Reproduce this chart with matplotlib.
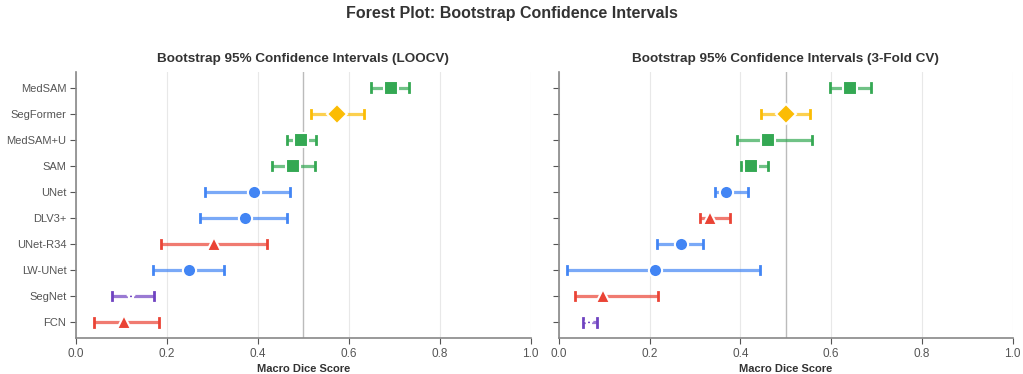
import matplotlib
matplotlib.use("Agg")
import matplotlib.pyplot as plt

plt.rcParams['font.family'] = ['Liberation Sans', 'DejaVu Sans']

GREEN = "#34A853"
YELLOW = "#FBBC04"
BLUE = "#4285F4"
RED = "#EA4335"
PURPLE = "#6F42C1"

models = ["MedSAM", "SegFormer", "MedSAM+U", "SAM", "UNet",
          "DLV3+", "UNet-R34", "LW-UNet", "SegNet", "FCN"]

# LOOCV (rows top to bottom)
loo_mean = [0.692, 0.575, 0.495, 0.477, 0.391, 0.372, 0.303, 0.248, 0.121, 0.106]
loo_lo = [0.648, 0.516, 0.464, 0.430, 0.284, 0.273, 0.187, 0.169, 0.080, 0.039]
loo_hi = [0.733, 0.633, 0.527, 0.525, 0.470, 0.464, 0.421, 0.325, 0.171, 0.183]
loo_col = [GREEN, YELLOW, GREEN, GREEN, BLUE, BLUE, RED, BLUE, PURPLE, RED]
loo_mk = ["s", "D", "s", "s", "o", "o", "^", "o", "*", "^"]

# 3-fold CV (rows top to bottom)
cv_mean = [0.642, 0.500, 0.460, 0.424, 0.369, 0.333, 0.268, 0.212, 0.097, 0.066]
cv_lo = [0.598, 0.446, 0.393, 0.401, 0.343, 0.310, 0.215, 0.018, 0.035, 0.052]
cv_hi = [0.688, 0.553, 0.558, 0.460, 0.416, 0.377, 0.317, 0.443, 0.218, 0.083]
cv_col = [GREEN, YELLOW, GREEN, GREEN, BLUE, RED, BLUE, BLUE, RED, PURPLE]
cv_mk = ["s", "D", "s", "s", "o", "^", "o", "o", "^", "*"]

sizes = {"s": 9.5, "D": 10, "o": 9.5, "^": 9.5, "*": 6}

fig = plt.figure(figsize=(10.23, 3.74), dpi=100)
ax1 = fig.add_axes([0.0743, 0.0963, 0.4445, 0.7112])
ax2 = fig.add_axes([0.5464, 0.0963, 0.4435, 0.7112], sharey=ax1)

panels = [
    (ax1, loo_mean, loo_lo, loo_hi, loo_col, loo_mk, "Bootstrap 95% Confidence Intervals (LOOCV)"),
    (ax2, cv_mean, cv_lo, cv_hi, cv_col, cv_mk, "Bootstrap 95% Confidence Intervals (3-Fold CV)"),
]

n = len(models)
for ax, mean, lo, hi, col, mk, title in panels:
    for i in range(n):
        y = n - 1 - i
        ax.errorbar(mean[i], y, xerr=[[mean[i] - lo[i]], [hi[i] - mean[i]]],
                    fmt="none", ecolor=col[i], elinewidth=2.3, alpha=0.7,
                    capsize=0, zorder=2)
        ax.plot([lo[i], lo[i]], [y - 0.16, y + 0.16], color=col[i], lw=2, zorder=2)
        ax.plot([hi[i], hi[i]], [y - 0.16, y + 0.16], color=col[i], lw=2, zorder=2)
        ax.plot(mean[i], y, marker=mk[i], color=col[i], markersize=sizes[mk[i]],
                markeredgecolor="white", markeredgewidth=1.5, linestyle="none", zorder=3)
    ax.axvline(0.5, color="#bbbbbb", lw=1, zorder=1)
    ax.set_xlim(0, 1.0)
    ax.set_ylim(-0.6, n - 0.4)
    ax.grid(axis="x", color="#e8e8e8", lw=0.8, zorder=0)
    ax.set_axisbelow(True)
    for s in ["top", "right"]:
        ax.spines[s].set_visible(False)
    for s in ["left", "bottom"]:
        ax.spines[s].set_color("#888888")
        ax.spines[s].set_linewidth(1.2)
    ax.tick_params(colors="#555555", labelsize=8, length=4, pad=3)
    ax.tick_params(axis="x", labelsize=8.5)
    ax.set_xlabel("Macro Dice Score", fontsize=8, fontweight="bold",
                  color="#333333", labelpad=3)
    ax.set_title(title, fontsize=9.7, fontweight="bold", color="#333333", pad=7)

ax1.set_yticks(range(n))
ax1.set_yticklabels(models[::-1])
ax2.tick_params(labelleft=False)

fig.suptitle("Forest Plot: Bootstrap Confidence Intervals", fontsize=11.5,
             fontweight="bold", color="#333333", y=0.985)

fig.savefig("out.png", dpi=100)
